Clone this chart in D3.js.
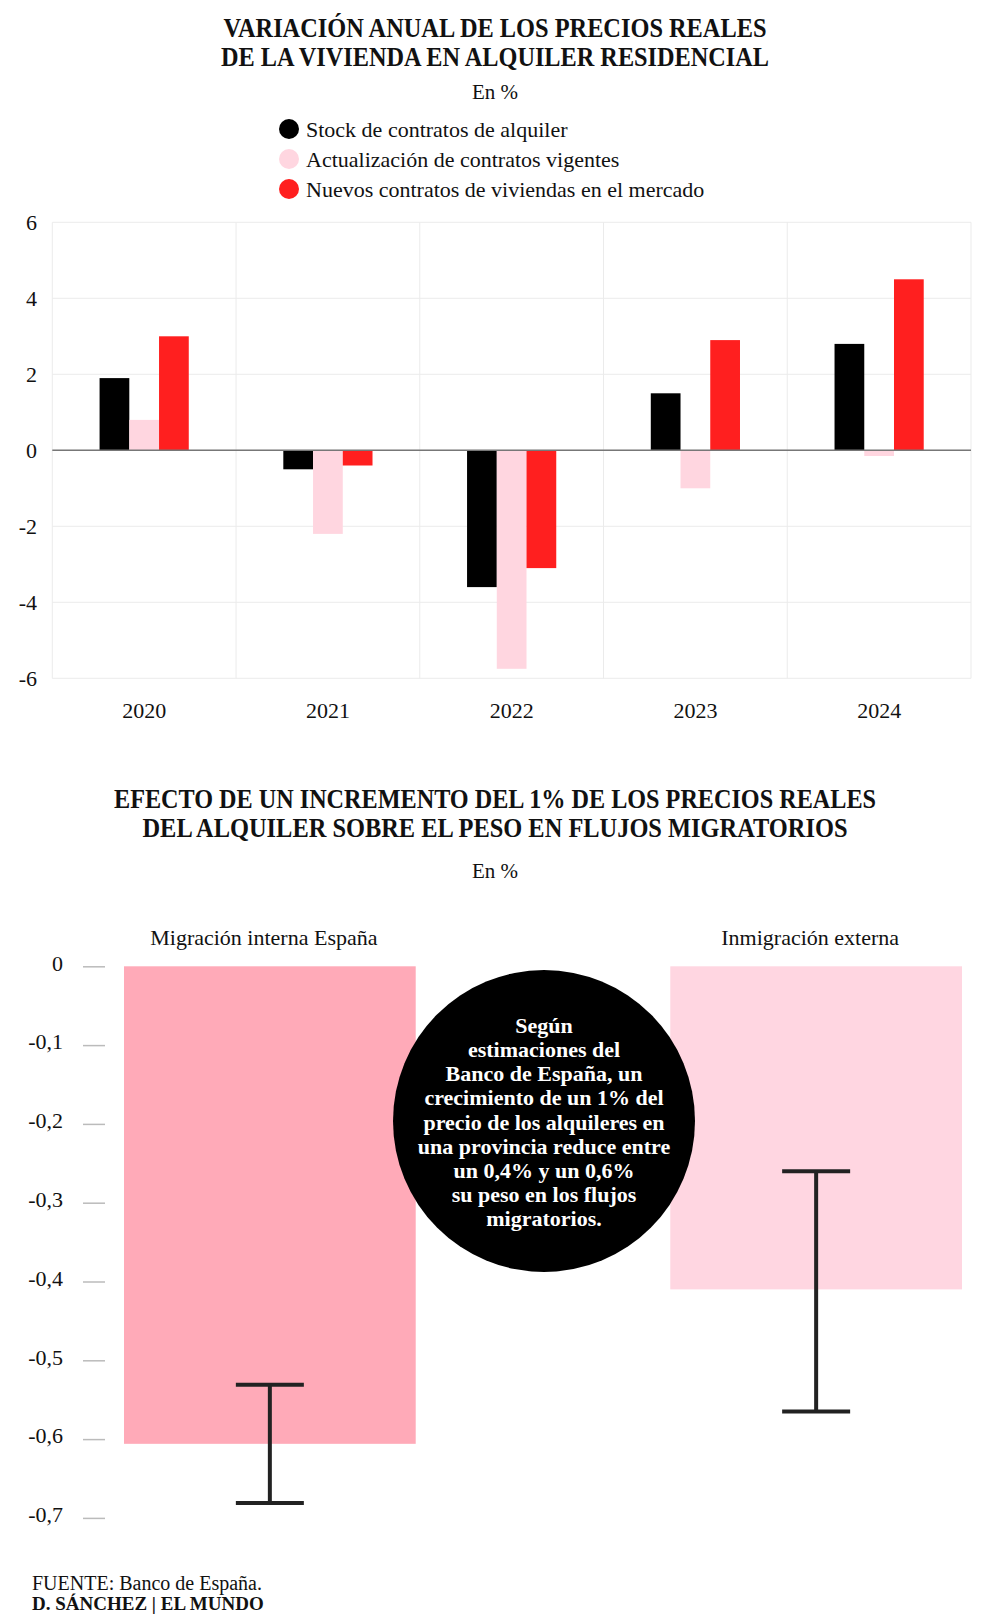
<!DOCTYPE html>
<html>
<head>
<meta charset="utf-8">
<script src="https://cdn.jsdelivr.net/npm/d3@7"></script>
<style>
  body { margin: 0; background: #fff; }
  svg text { font-family: "Liberation Serif", "Times New Roman", serif; fill: #111; }
</style>
</head>
<body>
<div id="chart"></div>
<script>
// chart 1: variación anual
var years = ['2020', '2021', '2022', '2023', '2024'];
var seriesNames = ['Stock de contratos de alquiler', 'Actualización de contratos vigentes', 'Nuevos contratos de viviendas en el mercado'];
var seriesColors = ['#000000', '#ffd6e0', '#ff1f1f'];
var stock = [1.9, -0.5, -3.6, 1.5, 2.8];
var actualizacion = [0.8, -2.2, -5.75, -1.0, -0.15];
var nuevos = [3.0, -0.4, -3.1, 2.9, 4.5];
var topTicks = [-6, -4, -2, 0, 2, 4, 6];

// chart 2: flujos migratorios
var flujos = ['Migración interna España', 'Inmigración externa'];
var flujoColors = ['#ffaab8', '#ffd6e1'];
var efecto = [-0.606, -0.41];
var errHigh = [-0.531, -0.26];
var errLow = [-0.681, -0.565];
var bottomTicks = [0, -0.1, -0.2, -0.3, -0.4, -0.5, -0.6, -0.7];

var nota = ['Según', 'estimaciones del', 'Banco de España, un', 'crecimiento de un 1% del',
  'precio de los alquileres en', 'una provincia reduce entre', 'un 0,4% y un 0,6%',
  'su peso en los flujos', 'migratorios.'];

var W = 990, H = 1621;

var svg = d3.select('#chart').append('svg')
  .attr('width', W)
  .attr('height', H)
  .attr('viewBox', '0 0 ' + W + ' ' + H);

function fitTitle(lines, baselines, widths) {
  lines.forEach(function(t, i) {
    svg.append('text')
      .attr('x', W / 2)
      .attr('y', baselines[i])
      .attr('text-anchor', 'middle')
      .attr('font-size', 28)
      .attr('font-weight', 'bold')
      .attr('textLength', widths[i])
      .attr('lengthAdjust', 'spacingAndGlyphs')
      .text(t);
  });
}

// ---------- top chart ----------
fitTitle(['VARIACIÓN ANUAL DE LOS PRECIOS REALES', 'DE LA VIVIENDA EN ALQUILER RESIDENCIAL'], [37, 66], [543, 548]);

svg.append('text')
  .attr('x', W / 2).attr('y', 99)
  .attr('text-anchor', 'middle')
  .attr('font-size', 21)
  .text('En %');

var legend = svg.append('g').attr('transform', 'translate(289,129)');
legend.selectAll('g').data(seriesNames)
  .enter().append('g')
  .attr('transform', function(d, i) { return 'translate(0,' + (i * 30) + ')'; })
  .each(function(d, i) {
    var g = d3.select(this);
    g.append('circle').attr('r', 10).attr('fill', seriesColors[i]);
    g.append('text').attr('x', 17).attr('dy', '0.35em').attr('font-size', 22).text(d);
  });

var plot = { left: 52.3, right: 971, top: 222.3, bottom: 678.3 };

var x0 = d3.scaleBand().domain(years).range([plot.left, plot.right]);
var x1 = d3.scaleBand().domain(d3.range(3)).range([0, x0.bandwidth()]).paddingOuter(1.59);
var y = d3.scaleLinear().domain([-6, 6]).range([plot.bottom, plot.top]);

var grid = svg.append('g').attr('stroke', '#ebebeb').attr('stroke-width', 1);
grid.selectAll('.h').data(topTicks).enter().append('line')
  .attr('x1', plot.left).attr('x2', plot.right)
  .attr('y1', function(d) { return y(d); })
  .attr('y2', function(d) { return y(d); });
grid.selectAll('.v').data(years.concat(['end'])).enter().append('line')
  .attr('x1', function(d) { return d === 'end' ? plot.right : x0(d); })
  .attr('x2', function(d) { return d === 'end' ? plot.right : x0(d); })
  .attr('y1', plot.top).attr('y2', plot.bottom);

var rows = years.map(function(yr, i) {
  return { year: yr, vals: [stock[i], actualizacion[i], nuevos[i]] };
});

svg.append('g').selectAll('g').data(rows)
  .enter().append('g')
  .attr('transform', function(d) { return 'translate(' + x0(d.year) + ',0)'; })
  .selectAll('rect').data(function(d) { return d.vals; })
  .enter().append('rect')
  .attr('x', function(d, i) { return x1(i); })
  .attr('width', x1.bandwidth())
  .attr('y', function(d) { return y(Math.max(0, d)); })
  .attr('height', function(d) { return Math.abs(y(d) - y(0)); })
  .attr('fill', function(d, i) { return seriesColors[i]; });

svg.append('line')
  .attr('x1', plot.left).attr('x2', plot.right)
  .attr('y1', y(0)).attr('y2', y(0))
  .attr('stroke', '#777').attr('stroke-width', 1.5);

var yAxisTop = d3.axisLeft(y).tickValues(topTicks).tickSize(0).tickPadding(0)
  .tickFormat(function(d) { return String(d); });
svg.append('g')
  .attr('transform', 'translate(37,0)')
  .call(yAxisTop)
  .call(function(g) {
    g.select('.domain').remove();
    g.selectAll('text').attr('font-size', 22).attr('fill', '#111').attr('font-family', null);
  });

var xAxisTop = d3.axisBottom(x0).tickSize(0).tickPadding(0);
svg.append('g')
  .attr('transform', 'translate(0,' + (plot.bottom + 24) + ')')
  .call(xAxisTop)
  .call(function(g) {
    g.select('.domain').remove();
    g.selectAll('text').attr('font-size', 22).attr('fill', '#111').attr('font-family', null);
  });

// ---------- bottom chart ----------
fitTitle(['EFECTO DE UN INCREMENTO DEL 1% DE LOS PRECIOS REALES', 'DEL ALQUILER SOBRE EL PESO EN FLUJOS MIGRATORIOS'], [808, 837], [762, 705]);

svg.append('text')
  .attr('x', W / 2).attr('y', 878)
  .attr('text-anchor', 'middle')
  .attr('font-size', 21)
  .text('En %');

var xb = d3.scaleBand().domain(flujos).range([124, 962]).paddingInner(0.466).paddingOuter(0);
var yb = d3.scaleLinear().domain([-0.7, 0]).range([1517.9, 966.3]);

var fmt = d3.formatLocale({ decimal: ',', thousands: '.', grouping: [3], currency: ['', '€'], minus: '-' }).format('.1f');

var yAxisBottom = d3.axisLeft(yb).tickValues(bottomTicks).tickSize(22).tickPadding(20)
  .tickFormat(function(d) { return d === 0 ? '0' : fmt(d); });
svg.append('g')
  .attr('transform', 'translate(105,0)')
  .call(yAxisBottom)
  .call(function(g) {
    g.select('.domain').remove();
    g.selectAll('line').attr('stroke', '#bbb').attr('stroke-width', 1.5);
    g.selectAll('text').attr('font-size', 22).attr('fill', '#111').attr('font-family', null).attr('dy', '0.17em');
  });

svg.append('g').selectAll('rect').data(flujos)
  .enter().append('rect')
  .attr('x', function(d) { return xb(d); })
  .attr('width', xb.bandwidth())
  .attr('y', yb(0))
  .attr('height', function(d, i) { return yb(efecto[i]) - yb(0); })
  .attr('fill', function(d, i) { return flujoColors[i]; });

svg.append('g').selectAll('text').data(flujos)
  .enter().append('text')
  .attr('x', function(d) { return xb(d) + xb.bandwidth() / 2 - 6; })
  .attr('y', 945)
  .attr('text-anchor', 'middle')
  .attr('font-size', 22)
  .text(function(d) { return d; });

// error bars
var capW = 68;
var err = svg.append('g').attr('stroke', '#222').attr('stroke-width', 4).attr('fill', 'none');
err.selectAll('g').data(flujos)
  .enter().append('g')
  .each(function(d, i) {
    var g = d3.select(this), cx = xb(d) + xb.bandwidth() / 2;
    g.append('line').attr('x1', cx).attr('x2', cx).attr('y1', yb(errHigh[i])).attr('y2', yb(errLow[i]));
    g.append('line').attr('x1', cx - capW / 2).attr('x2', cx + capW / 2).attr('y1', yb(errHigh[i])).attr('y2', yb(errHigh[i]));
    g.append('line').attr('x1', cx - capW / 2).attr('x2', cx + capW / 2).attr('y1', yb(errLow[i])).attr('y2', yb(errLow[i]));
  });

// annotation bubble
var bubble = svg.append('g').attr('transform', 'translate(544,1121)');
bubble.append('circle').attr('r', 151).attr('fill', '#000');
bubble.selectAll('text').data(nota)
  .enter().append('text')
  .attr('x', 0)
  .attr('y', function(d, i) { return -96 + i * 24.2; })
  .attr('dy', '0.35em')
  .attr('text-anchor', 'middle')
  .attr('font-size', 22)
  .attr('font-weight', 'bold')
  .style('fill', '#fff')
  .text(function(d) { return d; });

// footer
svg.append('text')
  .attr('x', 32).attr('y', 1590)
  .attr('font-size', 20)
  .text('FUENTE: Banco de España.');
svg.append('text')
  .attr('x', 32).attr('y', 1610)
  .attr('font-size', 19)
  .attr('font-weight', 'bold')
  .text('D. SÁNCHEZ | EL MUNDO');
</script>
</body>
</html>
